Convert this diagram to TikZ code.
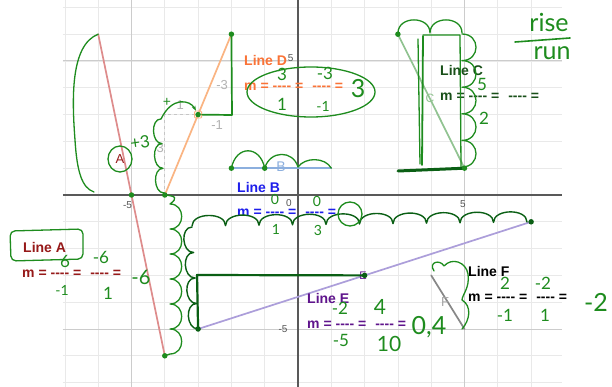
\documentclass[tikz,border=0pt]{standalone}
\usepackage{fontspec}
\setmainfont{Liberation Sans}
\newfontfamily\hand{Lato}
\usepackage{xcolor}
\usetikzlibrary{arrows.meta}

\definecolor{pen}{RGB}{30,140,30}
\definecolor{pendark}{RGB}{10,95,20}
\definecolor{lineA}{RGB}{222,140,140}
\definecolor{textA}{RGB}{150,25,25}
\definecolor{lineD}{RGB}{250,180,130}
\definecolor{textD}{RGB}{250,115,55}
\definecolor{lineB}{RGB}{140,175,222}
\definecolor{textB}{RGB}{30,30,235}
\definecolor{lineC}{RGB}{145,195,145}
\definecolor{textC}{RGB}{25,80,25}
\definecolor{lineE}{RGB}{172,158,218}
\definecolor{textE}{RGB}{95,20,140}
\definecolor{lineF}{RGB}{135,135,135}

\newcommand{\dsh}{-{}-{}-{}-}
\newcommand{\slopeline}{m = \dsh{} =\hspace{9pt}\dsh{} =}

\begin{document}
\begin{tikzpicture}[
    x=1pt, y=-1pt,
    gridline/.style={gray!17, line width=0.8pt},
    gridmajor/.style={gray!40, line width=1pt},
    axis/.style={gray!70!black, line width=1.5pt},
    tick/.style={font=\fontsize{10}{10}\selectfont, text=gray!65!black, inner sep=0pt},
    helper/.style={font=\fontsize{13}{13}\selectfont, text=gray!60, inner sep=0pt},
    graphline/.style={line width=1.7pt, line cap=round},
    title/.style={font=\fontsize{14}{14}\selectfont\bfseries, anchor=west, inner sep=0pt},
    ink/.style={pen, line width=1.3pt, line cap=round, line join=round},
    inkdark/.style={pendark, line width=1.4pt, line cap=round, line join=round},
    dot/.style={circle, fill=pen, inner sep=0pt, minimum size=5.5pt},
    darkdot/.style={dot, fill=pendark},
    hw/.style={text=pen, font=\hand\fontsize{17}{17}\selectfont, inner sep=0pt},
    hwsmall/.style={hw, font=\hand\fontsize{14}{14}\selectfont},
    hwbig/.style={hw, font=\hand\fontsize{25}{25}\selectfont},
]
\fill[white] (0,0) rectangle (612,387);
\useasboundingbox (0,0) rectangle (612,387);

% grid and the six lines
\begin{scope}[shift={(298,195)}, x=33.3pt, y=26.8pt]
  \foreach \gx in {-7,...,7} \draw[gridline] (\gx,-7.2) -- (\gx,7.3);
  \foreach \gy in {-7,...,7} \draw[gridline] (-7.06,\gy) -- (7.93,\gy);
  \foreach \m in {-5,5} {
    \draw[gridmajor] (\m,-7.2) -- (\m,7.3);
    \draw[gridmajor] (-7.06,\m) -- (7.93,\m);
  }
  \draw[axis] (-7.06,0) -- (7.93,0);
  \draw[axis] (0,-7.2) -- (0,7.3);

  \node[tick] (tx_m5) at (-5.12,-0.36) {-5};
  \node[tick] (tx_0) at (-0.27,-0.3) {0};
  \node[tick] (tx_5) at (4.95,-0.34) {5};
  \node[tick] (ty_5) at (-0.22,5.12) {5};
  \node[tick] (ty_m5) at (-0.45,-5.0) {-5};

  \coordinate (A1) at (-6,6);  \coordinate (A2) at (-4,-6); \coordinate (Ax) at (-5,0);
  \coordinate (D1) at (-4,0);  \coordinate (D2) at (-2,6);
  \coordinate (Dm) at (-3,3);  \coordinate (Dc) at (-2,3);  \coordinate (Dl) at (-4,3);
  \coordinate (B1) at (-2,1);  \coordinate (B2) at (1,1);   \coordinate (Bm) at (-1,1);
  \coordinate (C1) at (3,6);   \coordinate (C2) at (5,1);
  \coordinate (E1) at (-3,-5); \coordinate (E2) at (7,-1);  \coordinate (Em) at (2,-3);
  \coordinate (F1) at (4,-3);  \coordinate (F2) at (5,-5);

  % slope triangles of line D
  \draw[dashed, gray!45, line width=0.7pt] (D1) -- (Dl) -- (Dm);
  \draw[dashed, black!70, line width=0.7pt] (D2) -- (Dc) -- (Dm);
  \node[helper] (runD1) at (-3.54,3.36) {1};
  \node[helper] (riseD1) at (-4.14,1.75) {3};
  \node[helper] (riseD2) at (-2.28,4.1) {-3};
  \node[helper] (runD2) at (-2.43,2.62) {-1};

  \draw[graphline, lineA] (A1) -- (A2);
  \draw[graphline, lineD] (D1) -- (D2);
  \draw[graphline, lineB] (B1) -- (B2);
  \draw[graphline, lineC] (C1) -- (C2);
  \draw[graphline, lineE] (E1) -- (E2);
  \draw[graphline, lineF] (F1) -- (F2);
  \node[draw=lineD, line width=0.8pt, rounded corners=1pt, minimum size=7pt, inner sep=0pt] (Dmark) at (Dm) {};
\end{scope}

% line names on the lines
\node[font=\fontsize{13}{13}\selectfont, text=textA, inner sep=0pt] (nameA) at (120,159) {A};
\node[font=\fontsize{14}{14}\selectfont, text=lineB, inner sep=0pt] (nameB) at (281,167) {B};
\node[font=\fontsize{12}{12}\selectfont, text=lineC, inner sep=0pt] (nameC) at (430,98) {C};
\node[font=\fontsize{11}{11}\selectfont, text=textE, inner sep=0pt] (nameE) at (363,276) {E};
\node[font=\fontsize{13}{13}\selectfont, text=gray!70, inner sep=0pt] (nameF) at (445,302) {F};

% printed slope forms
\node[title, text=textA] (lineA_lbl) at (23,247) {Line A};
\node[title, text=textA] (slopeA) at (22,274) {\slopeline};
\node[title, text=textD] (lineD_lbl) at (244,60) {Line D};
\node[title, text=textD] (slopeD) at (244,87) {\slopeline};
\node[title, text=textB] (lineB_lbl) at (237,187) {Line B};
\node[title, text=textB] (slopeB) at (237,213) {\slopeline};
\node[title, text=textC] (lineC_lbl) at (440,70) {Line C};
\node[title, text=textC] (slopeC) at (440,97) {\slopeline};
\node[title, text=textE] (lineE_lbl) at (307,298) {Line E};
\node[title, text=textE] (slopeE) at (307,325) {\slopeline};
\node[title] (lineF_lbl) at (468,271) {Line F};
\node[title] (slopeF) at (468,298) {\slopeline};

% ---- handwriting ----
% line A
\draw[ink] (A1) .. controls (70,45) and (72,100) .. (75,140) .. controls (77,172) and (82,188) .. (94,192);
\draw[ink] (nameA) ellipse (12 and 13);
\draw[ink] (D1) .. controls (176,196) and (178,198) .. (170,204)
  \foreach \k in {1,...,6} { to[out=0, in=0, looseness=1.6] ++(0,25) } -- (A2);
\draw[ink, rounded corners=5pt] (10,231) -- (83,229) -- (83,259) -- (11,261) -- cycle;
\node[dot] (dotAx) at (Ax) {};
\node[dot] (dotD1) at (D1) {};
\node[dot] (dotA2) at (A2) {};
\node[hw] (numA1) at (65,261) {6};
\node[hwsmall] (denA1) at (62,290) {-1};
\node[hw] (numA2) at (101,257) {-6};
\node[hw] (denA2) at (108,293) {1};
\node[hw, font=\hand\fontsize{20}{20}\selectfont] (resA) at (141,277) {-6};

% line D
\draw[ink] (164,193) \foreach \k in {1,...,3} { to[out=180, in=180, looseness=1.1] ++(-1,-24.7) };
\draw[ink, -{Stealth[length=5pt]}] (161,119) .. controls (172,96) and (190,100) .. (Dmark);
\draw[ink, line width=1.7pt] (Dmark) -- (232,115) -- (D2);
\node[dot] (dotDm) at (Dm) {};
\node[dot] (dotD2) at (D2) {};
\node[hwsmall] (plusOne) at (167,102) {+};
\node[hw, rotate=8] (plusThree) at (140,142) {+3};
\draw[ink] (311,92) ellipse (64 and 25);
\node[hw] (numD1) at (282,74) {3};
\node[hw] (denD1) at (282,104) {1};
\node[hw] (numD2) at (325,73) {-3};
\node[hwsmall] (denD2) at (323,106) {-1};
\node[hwbig] (resD) at (358,89) {3};

% line B
\draw[ink] (B1) .. controls (236,145) and (260,145) .. (Bm) .. controls (270,150) and (293,150) .. (298,167)
  .. controls (305,157) and (325,157) .. (B2);
\node[dot] (dotB1) at (B1) {};
\node[dot] (dotBm) at (Bm) {};
\node[hwsmall] (numB1) at (275,199) {0};
\node[hwsmall] (denB1) at (276,229) {1};
\node[hwsmall] (numB2) at (317,201) {0};
\node[hwsmall] (denB2) at (318,230) {3};

% line C
\draw[ink] (398,33) \foreach \k in {1,...,2} { to[out=90, in=90, looseness=1.4] ++(32,0) };
\draw[ink] (462,34) \foreach \k in {1,...,5} { to[out=0, in=0, looseness=1.8] ++(0,26.6) };
\draw[ink] (418,39) -- (420,164);
\draw[ink, line width=1.8pt] (423,36) -- (422,165);
\draw[ink] (423,35) -- (460,35) -- (461,167);
\draw[inkdark, line width=3pt] (398,171) -- (C2);
\node[dot] (dotC1) at (C1) {};
\node[dot] (dotC2) at (C2) {};
\node[hw] (numC) at (482,84) {5};
\node[hw] (denC) at (484,118) {2};

% rise over run
\node[hwbig] (rise) at (549,22) {rise};
\draw[ink, line width=1.6pt] (515,42) -- (570,38);
\node[hwbig] (run) at (552,53) {run};

% line E
\draw[inkdark] (192,226) \foreach \k in {1,...,10} { to[out=90, in=90, looseness=1.05] ++(33.5,-0.4) };
\draw[inkdark] (E1) \foreach \k in {1,...,4} { to[out=180, in=180, looseness=1.2] ++(-1.5,-25.5) };
\draw[ink] (350,214) circle (12);
\draw[inkdark, line width=2.2pt] (E1) -- (197,275) -- (Em);
\node[darkdot] (dotE1) at (E1) {};
\node[darkdot] (dotEm) at (Em) {};
\node[darkdot] (dotE2) at (E2) {};
\node[hw] (numE1) at (340,308) {-2};
\node[hw] (denE1) at (341,340) {-5};
\node[hw, font=\hand\fontsize{21}{21}\selectfont] (numE2) at (380,307) {4};
\node[hw, font=\hand\fontsize{21}{21}\selectfont] (denE2) at (389,344) {10};
\node[hwbig] (resE) at (429,327) {0,4};

% line F
\draw[ink] (434,271) .. controls (428,262) and (440,259) .. (444,266) .. controls (452,257) and (466,262) .. (468,274)
  .. controls (470,288) and (462,295) .. (462,300) .. controls (472,306) and (470,320) .. (462,329);
\node[hw] (numF1) at (505,283) {2};
\node[hw] (denF1) at (505,315) {-1};
\node[hw] (numF2) at (543,283) {-2};
\node[hw] (denF2) at (545,315) {1};
\node[hwbig] (resF) at (596,302) {-2};

\end{tikzpicture}
\end{document}
